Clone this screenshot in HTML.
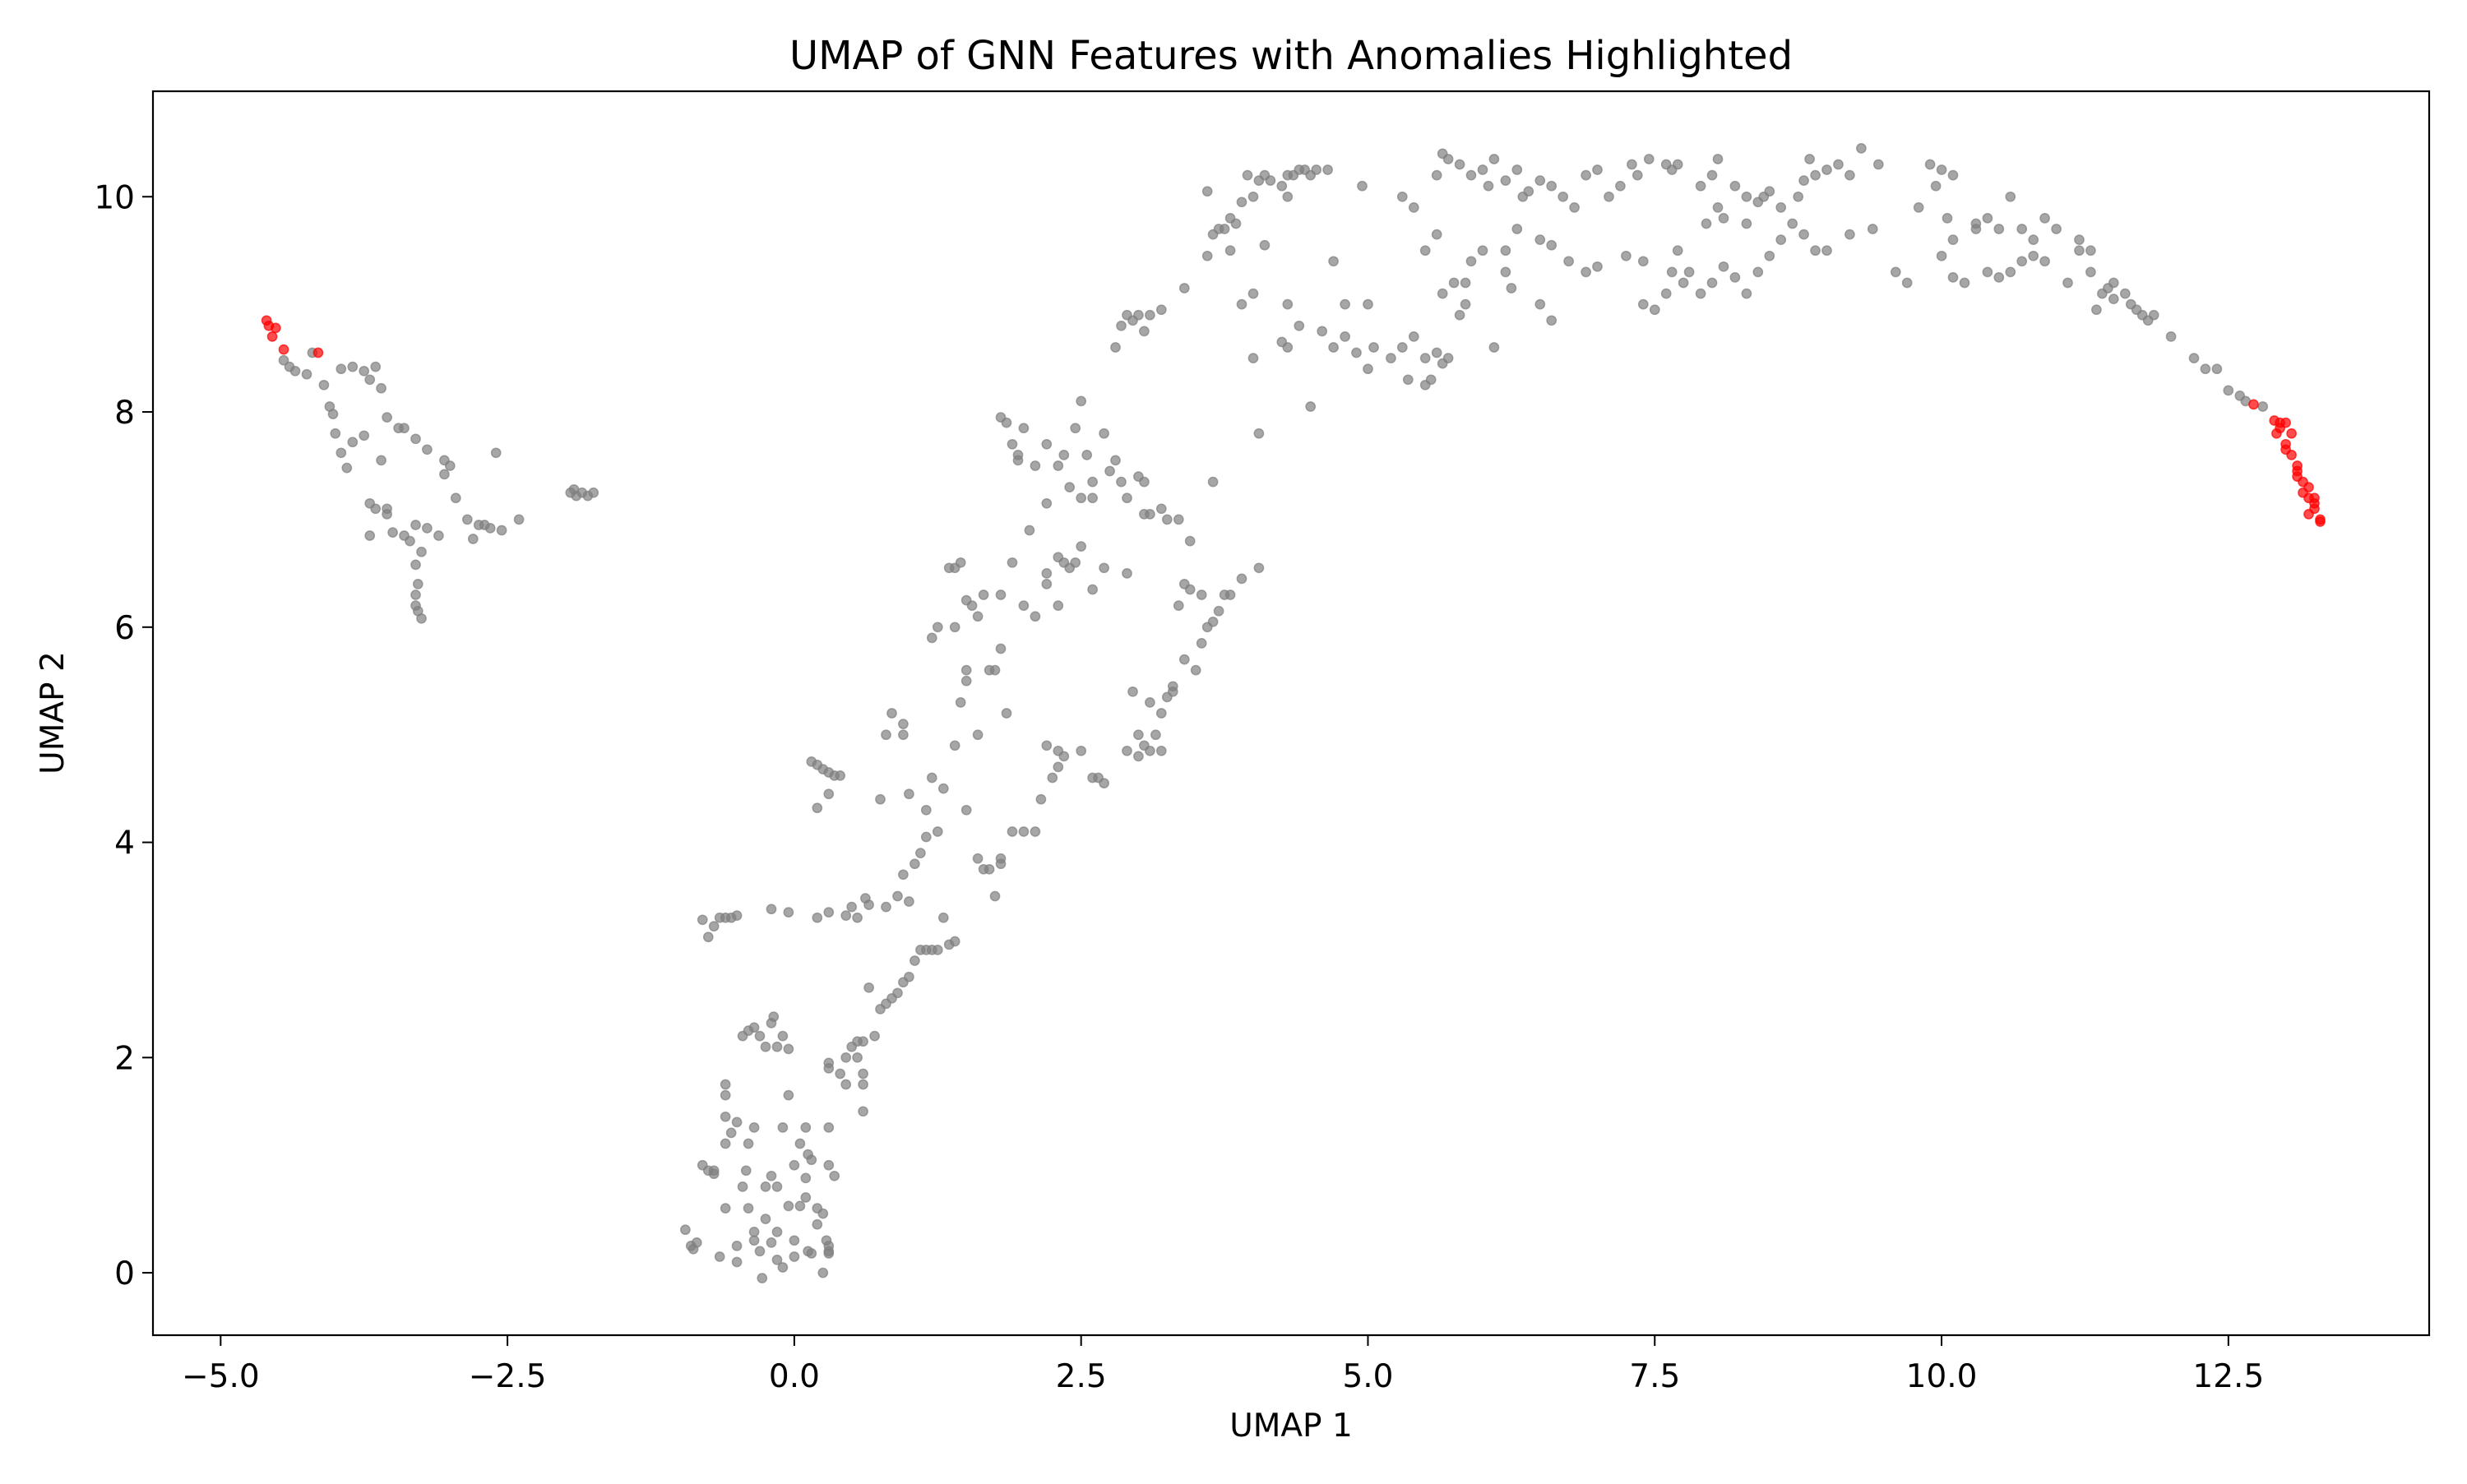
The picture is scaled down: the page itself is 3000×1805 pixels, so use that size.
<!DOCTYPE html>
<html><head><meta charset="utf-8"><style>
html,body{margin:0;padding:0;background:#fff;}
svg text{font-family:"DejaVu Sans","Liberation Sans",sans-serif;fill:#000;}
</style></head><body>
<svg id="chart" width="3000" height="1800" viewBox="0 0 3000 1800" xmlns="http://www.w3.org/2000/svg">
<rect x="0" y="0" width="3000" height="1800" fill="#fff"/>
<text x="1570" y="84" font-size="48" text-anchor="middle">UMAP of GNN Features with Anomalies Highlighted</text>
<text x="1570" y="1747" font-size="39" text-anchor="middle">UMAP 1</text>
<text x="77" y="867" font-size="39" text-anchor="middle" transform="rotate(-90 77 867)">UMAP 2</text>
<g id="points"></g>
<g id="axes"></g>
</svg>
<script>
const xTicks=[-5,-2.5,0,2.5,5,7.5,10,12.5];
const xTickLabels=["\u22125.0","\u22122.5","0.0","2.5","5.0","7.5","10.0","12.5"];
const yTicks=[0,2,4,6,8,10];
const yTickLabels=["0","2","4","6","8","10"];
const anomalies=[[-4.6,8.85],[-4.58,8.8],[-4.55,8.7],[-4.52,8.78],[-4.45,8.58],[-4.15,8.55],
[12.72,8.07],[12.9,7.92],[12.95,7.85],[13.0,7.9],[12.92,7.8],[13.05,7.8],[13.0,7.7],[13.05,7.6],[13.1,7.5],[13.1,7.4],[13.15,7.35],[13.15,7.25],[13.2,7.2],[13.25,7.15],[13.2,7.05],[13.3,7.0],[13.25,7.1],[13.3,6.98],[13.1,7.45],[13.0,7.65],[12.95,7.9],[13.2,7.3],[13.25,7.2]];
const normal=[[-4.45,8.48],[-4.4,8.42],[-4.35,8.38],[-4.2,8.55],[-4.25,8.35],[-4.1,8.25],[-3.95,8.4],[-3.85,8.42],[-3.75,8.38],[-3.65,8.42],[-3.7,8.3],[-3.6,8.22],[-4.05,8.05],[-4.02,7.98],[-4.0,7.8],[-3.95,7.62],[-3.9,7.48],[-3.85,7.72],[-3.75,7.78],[-3.55,7.95],[-3.45,7.85],[-3.4,7.85],[-3.3,7.75],[-3.2,7.65],[-3.05,7.55],[-3.0,7.5],[-3.05,7.42],[-3.6,7.55],[-3.7,7.15],[-3.65,7.1],[-3.55,7.05],[-3.5,6.88],[-3.4,6.85],[-3.35,6.8],[-3.3,6.95],[-3.25,6.7],[-3.2,6.92],[-3.1,6.85],[-2.95,7.2],[-2.85,7.0],[-2.8,6.82],[-2.75,6.95],[-2.7,6.95],[-2.65,6.92],[-2.6,7.62],[-2.55,6.9],[-2.4,7.0],[-3.3,6.58],[-3.28,6.4],[-3.3,6.3],[-3.3,6.2],[-3.28,6.15],[-3.25,6.08],[-1.95,7.25],[-1.9,7.22],[-1.85,7.25],[-1.8,7.22],[-1.75,7.25],[-1.92,7.28],[-3.55,7.1],[-3.7,6.85],
[-0.95,0.4],[-0.9,0.25],[-0.85,0.28],[-0.88,0.22],[-0.8,1.0],[-0.75,0.95],[-0.7,0.92],[-0.65,0.15],[-0.6,0.6],[-0.6,1.2],[-0.55,1.3],[-0.6,1.45],[-0.6,1.65],[-0.6,1.75],[-0.5,1.4],[-0.5,0.25],[-0.5,0.1],[-0.45,0.8],[-0.42,0.95],[-0.4,0.6],[-0.35,0.38],[-0.3,0.2],[-0.28,-0.05],[-0.25,0.5],[-0.2,0.28],[-0.15,0.12],[-0.1,0.05],[-0.05,0.62],[0,1.0],[0.0,0.3],[0.05,1.2],[0.1,0.88],[0.1,0.7],[0.12,0.2],[0.15,0.18],[0.2,0.45],[0.25,0.55],[-0.15,0.38],[-0.2,0.9],[-0.25,0.8],[0.15,1.05],[0.12,1.1],[-0.05,1.65],[-0.1,1.35],[0.05,0.62],[-0.4,1.2],[-0.35,1.35],[-0.45,2.2],[-0.4,2.25],[-0.35,2.28],[-0.3,2.2],[-0.25,2.1],[-0.2,2.32],[-0.18,2.38],[-0.15,2.1],[-0.1,2.2],[-0.05,2.08],[0.1,1.35],[0.3,0.25],[0.3,0.18],[0.28,0.3],[0.3,0.2],[0.2,0.6],[0.35,0.9],[0.3,1.0],[0.25,0.0],[-0.7,0.95],[-0.35,0.3],[-0.15,0.8],[0.0,0.15],
[-0.8,3.28],[-0.75,3.12],[-0.7,3.22],[-0.65,3.3],[-0.6,3.3],[-0.55,3.3],[-0.5,3.32],[-0.2,3.38],[-0.05,3.35],[0.2,3.3],[0.3,3.35],[0.45,3.32],[0.5,3.4],[0.55,3.3],[0.62,3.48],[0.65,3.42],
[0.3,1.95],[0.3,1.9],[0.45,2.0],[0.5,2.1],[0.55,2.15],[0.6,2.15],[0.65,2.65],[0.7,2.2],[0.75,2.45],[0.8,2.5],[0.85,2.55],[0.9,2.6],[0.95,2.7],[1.0,2.75],[1.05,2.9],[1.1,3.0],[1.15,3.0],[1.2,3.0],[1.25,3.0],[1.3,3.3],[1.35,3.05],[1.4,3.08],[0.55,2.0],[0.6,1.75],[0.6,1.85],[0.8,3.4],[0.9,3.5],[0.95,3.7],[1.0,3.45],[1.05,3.8],[1.1,3.9],[1.15,4.05],[1.2,4.6],[1.25,4.1],[1.3,4.5],[1.5,4.3],[1.4,4.9],[1.6,3.85],[1.65,3.75],[1.7,3.75],[1.75,3.5],[1.8,3.85],[1.8,3.8],[1.9,4.1],[2.0,4.1],[2.1,4.1],[2.15,4.4],[2.2,4.9],[2.25,4.6],[2.3,4.85],[2.35,4.8],[2.5,4.85],[2.3,4.7],[2.6,4.6],[2.65,4.6],[2.7,4.55],[2.9,4.85],[3.0,4.8],[3.1,4.85],[3.15,5.0],[3.2,5.2],[3.25,5.35],[3.2,4.85],[3.3,5.4],[3.4,5.7],[3.5,5.6],[3.55,5.85],[3.6,6.0],[3.65,6.05],[3.7,6.15],[3.75,6.3],[3.8,6.3],[3.9,6.45],[4.05,6.55],[3.35,6.2],[3.4,6.4],[3.45,6.35],[3.55,6.3],[3.3,5.45],[3.1,5.3],[2.95,5.4],[3.0,5.0],[3.05,4.9],[0.3,1.35],[0.4,1.85],[0.45,1.75],[0.6,1.5],
[0.15,4.75],[0.2,4.72],[0.25,4.68],[0.3,4.65],[0.35,4.62],[0.4,4.62],[0.3,4.45],[0.2,4.32],[0.75,4.4],[0.8,5.0],[0.85,5.2],[0.95,5.1],[1.0,4.45],[1.15,4.3],[0.95,5.0],
[1.2,5.9],[1.25,6.0],[1.35,6.55],[1.4,6.55],[1.45,6.6],[1.5,6.25],[1.55,6.2],[1.6,6.1],[1.65,6.3],[1.7,5.6],[1.75,5.6],[1.8,5.8],[1.8,6.3],[1.85,5.2],[1.9,6.6],[2.0,6.2],[2.1,6.1],[2.2,6.4],[2.3,6.65],[2.35,6.6],[2.4,6.55],[2.45,6.6],[2.5,6.75],[2.6,6.35],[2.7,6.55],[2.9,6.5],[2.3,6.2],[1.5,5.5],[1.45,5.3],[1.6,5.0],[1.5,5.6],[1.4,6.0],[1.95,7.6],[1.8,7.95],[1.85,7.9],[1.9,7.7],[2.0,7.85],[1.95,7.55],[2.1,7.5],[2.2,7.7],[2.3,7.5],[2.35,7.6],[2.45,7.85],[2.5,8.1],[2.55,7.6],[2.6,7.35],[2.5,7.2],[2.7,7.8],[2.75,7.45],[2.8,7.55],[2.85,7.35],[2.9,7.2],[3.0,7.4],[3.05,7.35],[3.1,7.05],[3.2,7.1],[3.25,7.0],[3.35,7.0],[3.45,6.8],[3.05,7.05],[3.65,7.35],[2.6,7.2],[2.4,7.3],[2.2,7.15],[2.05,6.9],[2.2,6.5],
[2.8,8.6],[2.85,8.8],[2.9,8.9],[2.95,8.85],[3.0,8.9],[3.05,8.75],[3.1,8.9],[3.2,8.95],[3.4,9.15],[3.6,9.45],[3.65,9.65],[3.7,9.7],[3.75,9.7],[3.8,9.8],[3.85,9.75],[3.9,9.95],[4.0,10.0],[4.05,10.15],[4.1,10.2],[4.15,10.15],[3.95,10.2],[3.6,10.05],[4.3,10.2],[4.35,10.2],[4.4,10.25],[4.45,10.25],[4.5,10.2],[4.3,10.0],[4.25,10.1],[4.55,10.25],[4.65,10.25],[4.1,9.55],[3.8,9.5],[4.3,9.0],[4.4,8.8],[4.3,8.6],[4.25,8.65],[4.0,8.5],[4.05,7.8],[4.0,9.1],[3.9,9.0],[4.7,8.6],[4.5,8.05],[4.9,8.55],[5.05,8.6],[5.2,8.5],[5.0,8.4],[5.3,8.6],[5.4,8.7],[5.5,8.5],[5.6,8.55],[5.55,8.3],[5.5,8.25],[5.35,8.3],[5.65,8.45],[5.7,8.5],[5.8,8.9],[5.85,9.0],[5.65,9.1],[5.75,9.2],[5.5,9.5],[5.6,9.65],[5.9,9.4],[5.85,9.2],[6.1,8.6],[6.0,9.5],[6.2,9.3],[6.25,9.15],[6.5,9.0],[6.6,8.85],[4.8,8.7],[4.6,8.75],[4.7,9.4],[5.0,9.0],[4.8,9.0],[4.95,10.1],[5.3,10.0],[5.4,9.9],
[5.6,10.2],[5.65,10.4],[5.7,10.35],[5.8,10.3],[5.9,10.2],[6.0,10.25],[6.05,10.1],[6.1,10.35],[6.2,10.15],[6.3,10.25],[6.35,10.0],[6.4,10.05],[6.5,10.15],[6.6,10.1],[6.7,10.0],[6.8,9.9],[6.2,9.5],[6.3,9.7],[6.5,9.6],[6.6,9.55],[6.75,9.4],[6.9,9.3],[7.0,9.35],[7.1,10.0],[7.2,10.1],[7.3,10.3],[7.35,10.2],[7.45,10.35],[7.6,10.3],[7.0,10.25],[6.9,10.2],[7.25,9.45],[7.4,9.4],[7.6,9.1],[7.65,9.3],[7.7,9.5],[7.75,9.2],[7.8,9.3],[7.9,9.1],[8.0,9.2],[8.1,9.35],[8.2,9.25],[8.3,9.1],[8.4,9.3],[8.5,9.45],[8.6,9.6],[8.7,9.75],[8.8,9.65],[8.9,9.5],[9.0,9.5],[9.2,9.65],[9.4,9.7],[7.65,10.25],[7.7,10.3],[7.9,10.1],[8.0,10.2],[8.05,10.35],[8.2,10.1],[8.3,10.0],[8.4,9.95],[8.5,10.05],[8.6,9.9],[8.75,10.0],[8.8,10.15],[8.9,10.2],[9.0,10.25],[9.1,10.3],[9.2,10.2],[9.3,10.45],[9.45,10.3],[8.85,10.35],[8.05,9.9],[8.1,9.8],[8.3,9.75],[8.45,10.0],[7.5,8.95],[7.4,9.0],[7.95,9.75],
[9.9,10.3],[10.0,10.25],[10.1,10.2],[9.95,10.1],[9.8,9.9],[10.05,9.8],[10.1,9.6],[10.0,9.45],[10.2,9.2],[10.3,9.7],[10.4,9.8],[10.5,9.7],[10.6,10.0],[10.7,9.7],[10.8,9.6],[10.9,9.8],[11.0,9.7],[11.2,9.6],[11.3,9.5],[10.4,9.3],[10.5,9.25],[10.6,9.3],[10.7,9.4],[10.8,9.45],[10.9,9.4],[11.1,9.2],[11.2,9.5],[11.3,9.3],[11.4,9.1],[11.5,9.05],[11.6,9.1],[11.65,9.0],[11.7,8.95],[11.75,8.9],[11.8,8.85],[11.5,9.2],[11.45,9.15],[11.35,8.95],[9.7,9.2],[9.6,9.3],[10.3,9.75],[10.1,9.25],[12.0,8.7],[12.2,8.5],[12.3,8.4],[12.4,8.4],[12.5,8.2],[12.6,8.15],[12.65,8.1],[12.8,8.05],[11.85,8.9]];

const L=186,R=2954,T=111,B=1624;
const xMin=-5.59,xMax=14.25,yMin=-0.58,yMax=10.98;
function sx(v){return L+(v-xMin)/(xMax-xMin)*(R-L);}
function sy(v){return B-(v-yMin)/(yMax-yMin)*(B-T);}
const NS="http://www.w3.org/2000/svg";
const pg=document.getElementById('points');
function dot(p,color,name){
  const c=document.createElementNS(NS,'circle');
  c.setAttribute('cx',sx(p[0]).toFixed(1));
  c.setAttribute('cy',sy(p[1]).toFixed(1));
  c.setAttribute('r','5.6');
  c.setAttribute('fill',color);
  c.setAttribute('fill-opacity','0.7');
  c.setAttribute('stroke',color);
  c.setAttribute('stroke-opacity','0.7');
  c.setAttribute('stroke-width','1.5');
  
  
  pg.appendChild(c);
}
normal.forEach(p=>dot(p,'#808080','normal-point'));
anomalies.forEach(p=>dot(p,'#ff0000','anomaly-point'));

const ag=document.getElementById('axes');
const frame=document.createElementNS(NS,'rect');
frame.setAttribute('x',L);frame.setAttribute('y',T);
frame.setAttribute('width',R-L);frame.setAttribute('height',B-T);
frame.setAttribute('fill','none');frame.setAttribute('stroke','#000');frame.setAttribute('stroke-width','2.2');


ag.appendChild(frame);
xTicks.forEach((v,i)=>{
  const x=sx(v);
  const l=document.createElementNS(NS,'line');
  l.setAttribute('x1',x);l.setAttribute('x2',x);l.setAttribute('y1',B);l.setAttribute('y2',B+13);
  l.setAttribute('stroke','#000');l.setAttribute('stroke-width','2');
  
  
  ag.appendChild(l);
  const t=document.createElementNS(NS,'text');
  t.setAttribute('x',x);t.setAttribute('y',1687);t.setAttribute('font-size','39');t.setAttribute('text-anchor','middle');
  t.textContent=xTickLabels[i];
  
  
  ag.appendChild(t);
});
yTicks.forEach((v,i)=>{
  const y=sy(v);
  const l=document.createElementNS(NS,'line');
  l.setAttribute('x1',L-13);l.setAttribute('x2',L);l.setAttribute('y1',y);l.setAttribute('y2',y);
  l.setAttribute('stroke','#000');l.setAttribute('stroke-width','2');
  
  
  ag.appendChild(l);
  const t=document.createElementNS(NS,'text');
  t.setAttribute('x',L-22);t.setAttribute('y',y+14);t.setAttribute('font-size','39');t.setAttribute('text-anchor','end');
  t.textContent=yTickLabels[i];
  
  
  ag.appendChild(t);
});
</script>
</body></html>
